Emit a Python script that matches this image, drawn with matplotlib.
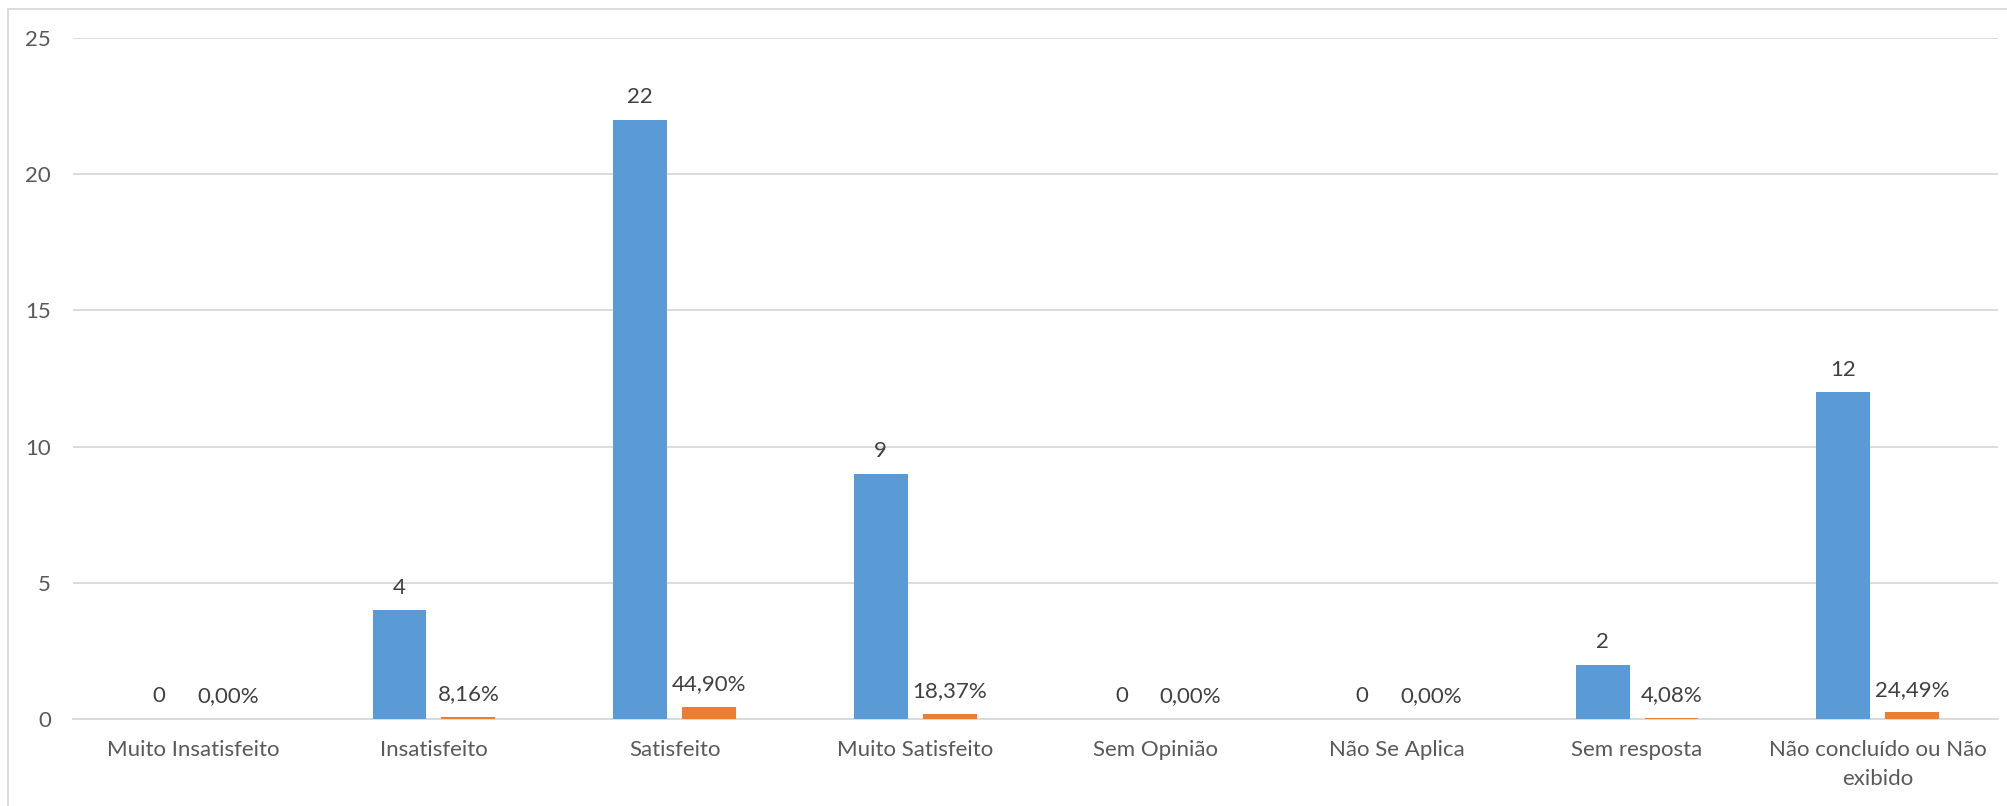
import matplotlib
matplotlib.use("Agg")
import matplotlib.pyplot as plt
from matplotlib.patches import Rectangle
import numpy as np

categories = ["Muito Insatisfeito", "Insatisfeito", "Satisfeito", "Muito Satisfeito",
              "Sem Opinião", "Não Se Aplica", "Sem resposta", "Não concluído ou Não\nexibido"]
counts = [0, 4, 22, 9, 0, 0, 2, 12]
percents = [0.0, 0.0816, 0.4490, 0.1837, 0.0, 0.0, 0.0408, 0.2449]
count_labels = ["0", "4", "22", "9", "0", "0", "2", "12"]
percent_labels = ["0,00%", "8,16%", "44,90%", "18,37%", "0,00%", "0,00%", "4,08%", "24,49%"]
yticks = [0, 5, 10, 15, 20, 25]

plt.rcParams['font.family'] = ['Lato', 'DejaVu Sans']

fig = plt.figure(figsize=(20.08, 8.06), dpi=100)
ax = fig.add_axes([73/2008, 1-719/806, (1998-73)/2008, (719-38)/806])

x = np.arange(len(categories))
w = 0.224
off = 0.143
ax.bar(x - off, counts, width=w, color="#5B9BD5", zorder=3)
ax.bar(x + off, percents, width=w, color="#ED7D31", zorder=3)

fs = 16
for xi, v, lab in zip(x, counts, count_labels):
    ax.annotate(lab, (xi - off, v), xytext=(0, 9), textcoords="offset points",
                ha="center", va="bottom", fontsize=fs, color="#404040")
for xi, v, lab in zip(x, percents, percent_labels):
    ax.annotate(lab, (xi + off, v), xytext=(0, 9), textcoords="offset points",
                ha="center", va="bottom", fontsize=fs, color="#404040")

ax.set_xlim(-0.5, len(categories) - 0.5)
ax.set_ylim(0, 25)
ax.set_yticks(yticks)
ax.set_xticks(x)
ax.set_xticklabels(categories, fontsize=fs, color="#595959", linespacing=1.55)
ax.tick_params(axis="y", length=0, pad=16, labelsize=fs, labelcolor="#595959")
ax.tick_params(axis="x", length=0, pad=15)
ax.grid(axis="y", color="#D9D9D9", linewidth=1.3, zorder=0)
for s in ["top", "right", "left"]:
    ax.spines[s].set_visible(False)
ax.spines["bottom"].set_color("#D9D9D9")
ax.spines["bottom"].set_linewidth(1.3)

fig.patches.append(Rectangle((8/2008, -0.05), 1.1, 1.05 - 9/806, transform=fig.transFigure,
                             fill=False, edgecolor="#D9D9D9", linewidth=1.3))

fig.savefig("out.png", dpi=100, facecolor="white")
